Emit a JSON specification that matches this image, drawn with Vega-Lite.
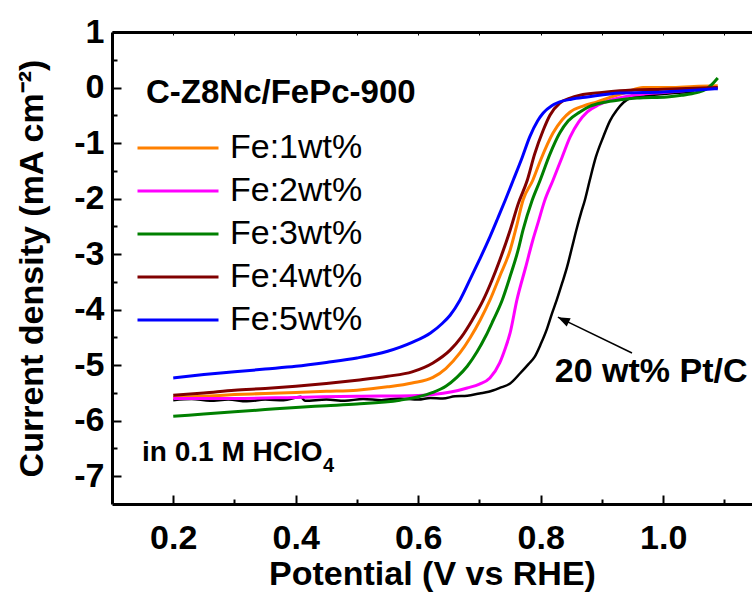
{
  "$schema": "https://vega.github.io/schema/vega-lite/v6.json",
  "width": 640,
  "height": 472,
  "autosize": {"type": "none"},
  "padding": {"left": 112, "top": 32, "right": 0, "bottom": 91},
  "background": "white",
  "config": {
    "view": {"stroke": null},
    "font": "Liberation Sans",
    "axis": {
      "grid": false,
      "domainColor": "black",
      "domainWidth": 3,
      "tickColor": "black",
      "tickWidth": 2,
      "labelFont": "Liberation Sans",
      "labelFontSize": 34,
      "labelFontWeight": "bold",
      "labelColor": "black",
      "labelOverlap": false,
      "labelFlush": false,
      "titleFont": "Liberation Sans",
      "titleFontSize": 34,
      "titleFontWeight": "bold",
      "titleColor": "black"
    }
  },
  "datasets": {
    "fe": [
      {"s": "Fe:1wt%", "v": 0.200, "j": -5.58}, {"s": "Fe:1wt%", "v": 0.250, "j": -5.56}, {"s": "Fe:1wt%", "v": 0.300, "j": -5.53},
      {"s": "Fe:1wt%", "v": 0.350, "j": -5.51}, {"s": "Fe:1wt%", "v": 0.400, "j": -5.49}, {"s": "Fe:1wt%", "v": 0.450, "j": -5.47},
      {"s": "Fe:1wt%", "v": 0.500, "j": -5.45}, {"s": "Fe:1wt%", "v": 0.550, "j": -5.39}, {"s": "Fe:1wt%", "v": 0.590, "j": -5.32},
      {"s": "Fe:1wt%", "v": 0.624, "j": -5.22}, {"s": "Fe:1wt%", "v": 0.645, "j": -5.06}, {"s": "Fe:1wt%", "v": 0.668, "j": -4.78},
      {"s": "Fe:1wt%", "v": 0.685, "j": -4.50}, {"s": "Fe:1wt%", "v": 0.701, "j": -4.19}, {"s": "Fe:1wt%", "v": 0.717, "j": -3.83},
      {"s": "Fe:1wt%", "v": 0.733, "j": -3.40}, {"s": "Fe:1wt%", "v": 0.750, "j": -2.93}, {"s": "Fe:1wt%", "v": 0.760, "j": -2.52},
      {"s": "Fe:1wt%", "v": 0.771, "j": -2.03}, {"s": "Fe:1wt%", "v": 0.787, "j": -1.67}, {"s": "Fe:1wt%", "v": 0.800, "j": -1.30},
      {"s": "Fe:1wt%", "v": 0.820, "j": -0.82}, {"s": "Fe:1wt%", "v": 0.835, "j": -0.58}, {"s": "Fe:1wt%", "v": 0.848, "j": -0.44},
      {"s": "Fe:1wt%", "v": 0.870, "j": -0.33}, {"s": "Fe:1wt%", "v": 0.892, "j": -0.26}, {"s": "Fe:1wt%", "v": 0.915, "j": -0.17},
      {"s": "Fe:1wt%", "v": 0.941, "j": -0.08}, {"s": "Fe:1wt%", "v": 0.967, "j": 0.00}, {"s": "Fe:1wt%", "v": 1.011, "j": 0.00},
      {"s": "Fe:1wt%", "v": 1.050, "j": 0.02}, {"s": "Fe:1wt%", "v": 1.089, "j": 0.03},

      {"s": "Fe:2wt%", "v": 0.200, "j": -5.60}, {"s": "Fe:2wt%", "v": 0.300, "j": -5.60}, {"s": "Fe:2wt%", "v": 0.400, "j": -5.58},
      {"s": "Fe:2wt%", "v": 0.500, "j": -5.56}, {"s": "Fe:2wt%", "v": 0.590, "j": -5.55}, {"s": "Fe:2wt%", "v": 0.624, "j": -5.53},
      {"s": "Fe:2wt%", "v": 0.655, "j": -5.48}, {"s": "Fe:2wt%", "v": 0.680, "j": -5.41}, {"s": "Fe:2wt%", "v": 0.700, "j": -5.34},
      {"s": "Fe:2wt%", "v": 0.717, "j": -5.23}, {"s": "Fe:2wt%", "v": 0.733, "j": -4.96}, {"s": "Fe:2wt%", "v": 0.742, "j": -4.70},
      {"s": "Fe:2wt%", "v": 0.750, "j": -4.42}, {"s": "Fe:2wt%", "v": 0.761, "j": -3.83}, {"s": "Fe:2wt%", "v": 0.775, "j": -3.25},
      {"s": "Fe:2wt%", "v": 0.787, "j": -2.75}, {"s": "Fe:2wt%", "v": 0.796, "j": -2.42}, {"s": "Fe:2wt%", "v": 0.806, "j": -2.05},
      {"s": "Fe:2wt%", "v": 0.820, "j": -1.67}, {"s": "Fe:2wt%", "v": 0.835, "j": -1.25}, {"s": "Fe:2wt%", "v": 0.848, "j": -0.89},
      {"s": "Fe:2wt%", "v": 0.862, "j": -0.62}, {"s": "Fe:2wt%", "v": 0.876, "j": -0.44}, {"s": "Fe:2wt%", "v": 0.895, "j": -0.31},
      {"s": "Fe:2wt%", "v": 0.913, "j": -0.23}, {"s": "Fe:2wt%", "v": 0.940, "j": -0.16}, {"s": "Fe:2wt%", "v": 0.967, "j": -0.12},
      {"s": "Fe:2wt%", "v": 1.000, "j": -0.09}, {"s": "Fe:2wt%", "v": 1.040, "j": -0.05}, {"s": "Fe:2wt%", "v": 1.089, "j": 0.00},

      {"s": "Fe:3wt%", "v": 0.200, "j": -5.92}, {"s": "Fe:3wt%", "v": 0.250, "j": -5.88}, {"s": "Fe:3wt%", "v": 0.300, "j": -5.84},
      {"s": "Fe:3wt%", "v": 0.350, "j": -5.80}, {"s": "Fe:3wt%", "v": 0.400, "j": -5.76}, {"s": "Fe:3wt%", "v": 0.450, "j": -5.73},
      {"s": "Fe:3wt%", "v": 0.500, "j": -5.70}, {"s": "Fe:3wt%", "v": 0.570, "j": -5.63}, {"s": "Fe:3wt%", "v": 0.600, "j": -5.57},
      {"s": "Fe:3wt%", "v": 0.624, "j": -5.49}, {"s": "Fe:3wt%", "v": 0.645, "j": -5.38}, {"s": "Fe:3wt%", "v": 0.663, "j": -5.22},
      {"s": "Fe:3wt%", "v": 0.680, "j": -5.02}, {"s": "Fe:3wt%", "v": 0.696, "j": -4.76}, {"s": "Fe:3wt%", "v": 0.710, "j": -4.48},
      {"s": "Fe:3wt%", "v": 0.722, "j": -4.20}, {"s": "Fe:3wt%", "v": 0.737, "j": -3.83}, {"s": "Fe:3wt%", "v": 0.750, "j": -3.40},
      {"s": "Fe:3wt%", "v": 0.763, "j": -2.93}, {"s": "Fe:3wt%", "v": 0.771, "j": -2.57}, {"s": "Fe:3wt%", "v": 0.786, "j": -2.03},
      {"s": "Fe:3wt%", "v": 0.799, "j": -1.67}, {"s": "Fe:3wt%", "v": 0.815, "j": -1.20}, {"s": "Fe:3wt%", "v": 0.831, "j": -0.82},
      {"s": "Fe:3wt%", "v": 0.845, "j": -0.60}, {"s": "Fe:3wt%", "v": 0.864, "j": -0.44}, {"s": "Fe:3wt%", "v": 0.880, "j": -0.34},
      {"s": "Fe:3wt%", "v": 0.902, "j": -0.27}, {"s": "Fe:3wt%", "v": 0.930, "j": -0.22}, {"s": "Fe:3wt%", "v": 0.957, "j": -0.19},
      {"s": "Fe:3wt%", "v": 1.006, "j": -0.17}, {"s": "Fe:3wt%", "v": 1.030, "j": -0.14}, {"s": "Fe:3wt%", "v": 1.055, "j": -0.09},
      {"s": "Fe:3wt%", "v": 1.070, "j": -0.03}, {"s": "Fe:3wt%", "v": 1.080, "j": 0.06}, {"s": "Fe:3wt%", "v": 1.089, "j": 0.17},

      {"s": "Fe:4wt%", "v": 0.200, "j": -5.54}, {"s": "Fe:4wt%", "v": 0.250, "j": -5.50}, {"s": "Fe:4wt%", "v": 0.300, "j": -5.45},
      {"s": "Fe:4wt%", "v": 0.350, "j": -5.42}, {"s": "Fe:4wt%", "v": 0.400, "j": -5.38}, {"s": "Fe:4wt%", "v": 0.450, "j": -5.33},
      {"s": "Fe:4wt%", "v": 0.500, "j": -5.27}, {"s": "Fe:4wt%", "v": 0.550, "j": -5.20}, {"s": "Fe:4wt%", "v": 0.590, "j": -5.12},
      {"s": "Fe:4wt%", "v": 0.624, "j": -4.96}, {"s": "Fe:4wt%", "v": 0.652, "j": -4.73}, {"s": "Fe:4wt%", "v": 0.670, "j": -4.50},
      {"s": "Fe:4wt%", "v": 0.688, "j": -4.19}, {"s": "Fe:4wt%", "v": 0.706, "j": -3.83}, {"s": "Fe:4wt%", "v": 0.720, "j": -3.48},
      {"s": "Fe:4wt%", "v": 0.733, "j": -3.11}, {"s": "Fe:4wt%", "v": 0.750, "j": -2.57}, {"s": "Fe:4wt%", "v": 0.763, "j": -2.10},
      {"s": "Fe:4wt%", "v": 0.778, "j": -1.67}, {"s": "Fe:4wt%", "v": 0.790, "j": -1.20}, {"s": "Fe:4wt%", "v": 0.804, "j": -0.77},
      {"s": "Fe:4wt%", "v": 0.815, "j": -0.50}, {"s": "Fe:4wt%", "v": 0.831, "j": -0.28}, {"s": "Fe:4wt%", "v": 0.848, "j": -0.19},
      {"s": "Fe:4wt%", "v": 0.864, "j": -0.14}, {"s": "Fe:4wt%", "v": 0.900, "j": -0.09}, {"s": "Fe:4wt%", "v": 0.929, "j": -0.06},
      {"s": "Fe:4wt%", "v": 1.000, "j": -0.03}, {"s": "Fe:4wt%", "v": 1.089, "j": 0.00},

      {"s": "Fe:5wt%", "v": 0.200, "j": -5.23}, {"s": "Fe:5wt%", "v": 0.250, "j": -5.17}, {"s": "Fe:5wt%", "v": 0.300, "j": -5.12},
      {"s": "Fe:5wt%", "v": 0.350, "j": -5.07}, {"s": "Fe:5wt%", "v": 0.400, "j": -5.02}, {"s": "Fe:5wt%", "v": 0.450, "j": -4.95},
      {"s": "Fe:5wt%", "v": 0.500, "j": -4.87}, {"s": "Fe:5wt%", "v": 0.550, "j": -4.75}, {"s": "Fe:5wt%", "v": 0.590, "j": -4.59},
      {"s": "Fe:5wt%", "v": 0.620, "j": -4.42}, {"s": "Fe:5wt%", "v": 0.640, "j": -4.24}, {"s": "Fe:5wt%", "v": 0.652, "j": -4.10},
      {"s": "Fe:5wt%", "v": 0.668, "j": -3.83}, {"s": "Fe:5wt%", "v": 0.684, "j": -3.47}, {"s": "Fe:5wt%", "v": 0.700, "j": -3.10},
      {"s": "Fe:5wt%", "v": 0.717, "j": -2.69}, {"s": "Fe:5wt%", "v": 0.730, "j": -2.35}, {"s": "Fe:5wt%", "v": 0.742, "j": -2.03},
      {"s": "Fe:5wt%", "v": 0.755, "j": -1.67}, {"s": "Fe:5wt%", "v": 0.770, "j": -1.25}, {"s": "Fe:5wt%", "v": 0.782, "j": -0.89},
      {"s": "Fe:5wt%", "v": 0.795, "j": -0.60}, {"s": "Fe:5wt%", "v": 0.804, "j": -0.46}, {"s": "Fe:5wt%", "v": 0.818, "j": -0.33},
      {"s": "Fe:5wt%", "v": 0.831, "j": -0.26}, {"s": "Fe:5wt%", "v": 0.850, "j": -0.21}, {"s": "Fe:5wt%", "v": 0.876, "j": -0.17},
      {"s": "Fe:5wt%", "v": 0.929, "j": -0.10}, {"s": "Fe:5wt%", "v": 1.000, "j": -0.08}, {"s": "Fe:5wt%", "v": 1.050, "j": -0.05},
      {"s": "Fe:5wt%", "v": 1.089, "j": -0.02}
    ],
    "ptc": [
      {"v": 0.200, "j": -5.63}, {"v": 0.230, "j": -5.61}, {"v": 0.260, "j": -5.64}, {"v": 0.290, "j": -5.62},
      {"v": 0.320, "j": -5.65}, {"v": 0.350, "j": -5.62}, {"v": 0.380, "j": -5.63}, {"v": 0.408, "j": -5.57},
      {"v": 0.415, "j": -5.64}, {"v": 0.450, "j": -5.62}, {"v": 0.480, "j": -5.64}, {"v": 0.510, "j": -5.61},
      {"v": 0.540, "j": -5.63}, {"v": 0.570, "j": -5.60}, {"v": 0.600, "j": -5.62}, {"v": 0.620, "j": -5.59},
      {"v": 0.640, "j": -5.60}, {"v": 0.660, "j": -5.56}, {"v": 0.680, "j": -5.55}, {"v": 0.700, "j": -5.51},
      {"v": 0.715, "j": -5.48}, {"v": 0.733, "j": -5.41}, {"v": 0.750, "j": -5.33}, {"v": 0.766, "j": -5.15},
      {"v": 0.780, "j": -4.98}, {"v": 0.790, "j": -4.85}, {"v": 0.800, "j": -4.62}, {"v": 0.810, "j": -4.35},
      {"v": 0.818, "j": -4.08}, {"v": 0.826, "j": -3.83}, {"v": 0.835, "j": -3.52}, {"v": 0.843, "j": -3.23},
      {"v": 0.851, "j": -2.88}, {"v": 0.859, "j": -2.53}, {"v": 0.866, "j": -2.25}, {"v": 0.872, "j": -2.03},
      {"v": 0.880, "j": -1.67}, {"v": 0.890, "j": -1.25}, {"v": 0.902, "j": -0.89}, {"v": 0.913, "j": -0.60},
      {"v": 0.924, "j": -0.41}, {"v": 0.935, "j": -0.27}, {"v": 0.946, "j": -0.19}, {"v": 0.960, "j": -0.16},
      {"v": 0.978, "j": -0.14}, {"v": 0.995, "j": -0.12}, {"v": 1.050, "j": -0.08}
    ]
  },
  "layer": [
    {
      "data": {"name": "ptc"},
      "mark": {"type": "line", "color": "black", "strokeWidth": 2.5, "interpolate": "monotone"},
      "encoding": {
        "x": {
          "field": "v", "type": "quantitative",
          "scale": {"domain": [0.1, 1.1449], "nice": false, "zero": false},
          "axis": {"orient": "bottom", "values": [0.3, 0.5, 0.7, 0.9, 1.1], "labels": false, "domain": false, "tickSize": -5, "title": null}
        },
        "y": {
          "field": "j", "type": "quantitative",
          "scale": {"domain": [-7.5, 1], "nice": false, "zero": false},
          "axis": {"orient": "left", "values": [0.5, -0.5, -1.5, -2.5, -3.5, -4.5, -5.5, -6.5], "labels": false, "domain": false, "tickSize": -5, "title": null}
        }
      }
    },
    {
      "data": {"name": "fe"},
      "mark": {"type": "line", "strokeWidth": 3, "interpolate": "monotone"},
      "encoding": {
        "x": {
          "field": "v", "type": "quantitative",
          "scale": {"domain": [0.1, 1.1449], "nice": false, "zero": false},
          "axis": {"orient": "bottom", "values": [0.2, 0.4, 0.6, 0.8, 1.0], "format": ".1f", "tickSize": -9,
                   "labelPadding": 26, "title": "Potential (V vs RHE)", "titlePadding": 2}
        },
        "y": {
          "field": "j", "type": "quantitative",
          "scale": {"domain": [-7.5, 1], "nice": false, "zero": false},
          "axis": {"orient": "left", "values": [1, 0, -1, -2, -3, -4, -5, -6, -7], "tickSize": -9, "labelPadding": 17,
                   "labelExpr": "datum.value < 0 ? '-' + abs(datum.value) : '' + datum.value",
                   "title": "Current density (mA cm⁻²)", "titlePadding": 24}
        },
        "color": {
          "field": "s", "type": "nominal",
          "scale": {"domain": ["Fe:1wt%", "Fe:2wt%", "Fe:3wt%", "Fe:4wt%", "Fe:5wt%"],
                    "range": ["#FF8000", "#FF00FF", "#008000", "#800000", "#0000FF"]},
          "legend": {"orient": "none", "legendX": 24, "legendY": 99, "title": null, "symbolType": "stroke",
                     "symbolSize": 6561, "symbolStrokeWidth": 3, "labelFont": "Liberation Sans", "labelFontSize": 34,
                     "labelFontWeight": "normal", "labelColor": "black", "labelOffset": 10, "rowPadding": 9,
                     "padding": 0, "clipHeight": 34}
        }
      }
    },
    {
      "data": {"values": [{"x0": 0.949, "y0": -4.78, "x1": 0.828, "y1": -4.135}]},
      "mark": {"type": "rule", "color": "black", "strokeWidth": 1.5},
      "encoding": {
        "x": {
          "field": "x0", "type": "quantitative",
          "scale": {"domain": [0.1, 1.1449], "nice": false, "zero": false},
          "axis": {"orient": "top", "values": [0.2, 0.3, 0.4, 0.5, 0.6, 0.7, 0.8, 0.9, 1.0, 1.1], "labels": false,
                   "tickSize": -3, "tickWidth": 1, "title": null}
        },
        "y": {"field": "y0", "type": "quantitative", "scale": {"domain": [-7.5, 1], "nice": false, "zero": false}, "axis": null},
        "x2": {"field": "x1"},
        "y2": {"field": "y1"}
      }
    },
    {
      "data": {"values": [{"x1": 0.828, "y1": -4.135}]},
      "mark": {"type": "point", "shape": "M0,0L0.38,1L-0.38,1Z", "filled": true, "color": "black", "opacity": 1, "size": 576, "angle": 296},
      "encoding": {
        "x": {"field": "x1", "type": "quantitative", "scale": {"domain": [0.1, 1.1449], "nice": false, "zero": false}, "axis": null},
        "y": {"field": "y1", "type": "quantitative", "scale": {"domain": [-7.5, 1], "nice": false, "zero": false}, "axis": null}
      }
    },
    {
      "data": {"values": [{}]},
      "mark": {"type": "text", "text": "C-Z8Nc/FePc-900", "font": "Liberation Sans", "fontSize": 33, "fontWeight": "bold", "align": "left", "baseline": "alphabetic", "color": "black"},
      "encoding": {
        "x": {"datum": 0.1555, "type": "quantitative", "axis": null},
        "y": {"datum": -0.279, "type": "quantitative", "axis": null}
      }
    },
    {
      "data": {"values": [{}]},
      "mark": {"type": "text", "text": "20 wt% Pt/C", "font": "Liberation Sans", "fontSize": 34, "fontWeight": "bold", "align": "left", "baseline": "alphabetic", "color": "black"},
      "encoding": {
        "x": {"datum": 0.823, "type": "quantitative", "axis": null},
        "y": {"datum": -5.31, "type": "quantitative", "axis": null}
      }
    },
    {
      "data": {"values": [{}]},
      "mark": {"type": "text", "text": "in 0.1 M HClO", "font": "Liberation Sans", "fontSize": 28, "fontWeight": "bold", "align": "left", "baseline": "alphabetic", "color": "black"},
      "encoding": {
        "x": {"datum": 0.149, "type": "quantitative", "axis": null},
        "y": {"datum": -6.73, "type": "quantitative", "axis": null}
      }
    },
    {
      "data": {"values": [{}]},
      "mark": {"type": "text", "text": "4", "font": "Liberation Sans", "fontSize": 20, "fontWeight": "bold", "align": "left", "baseline": "alphabetic", "color": "black"},
      "encoding": {
        "x": {"datum": 0.4445, "type": "quantitative", "axis": null},
        "y": {"datum": -6.93, "type": "quantitative", "axis": null}
      }
    }
  ],
  "resolve": {"axis": {"x": "independent", "y": "independent"}}
}
